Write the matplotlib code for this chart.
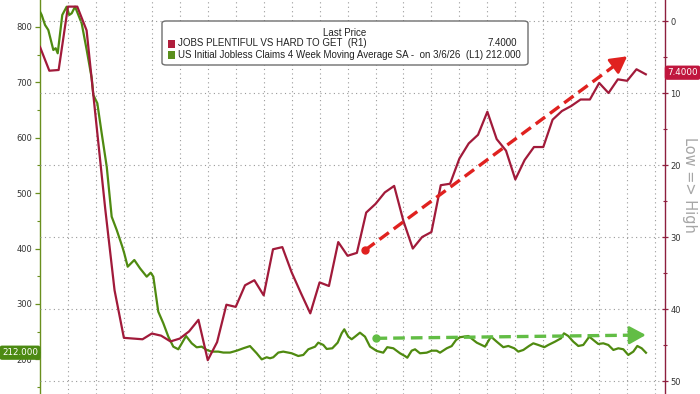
import numpy as np
import matplotlib
matplotlib.use("Agg")
import matplotlib.pyplot as plt
from matplotlib.patches import FancyBboxPatch, Rectangle, Polygon
from matplotlib.ticker import MultipleLocator, FixedLocator

# ---------------- data (x = months since end of Sep 2020) ----------------
jobs_diff = [3.6, 6.9, 6.8, -2.0, -2.0, 1.3, 13.7, 26.1, 37.4, 44.0,
             44.1, 44.2, 43.4, 43.7, 44.5, 44.1, 43.1, 41.5, 47.1, 44.6,
             39.4, 39.7, 36.7, 36.0, 38.1, 31.7, 31.4, 34.9, 37.8, 40.6,
             36.3, 36.8, 30.7, 32.6, 32.2, 26.6, 25.4, 23.8, 22.9, 27.8,
             31.6, 30.0, 29.3, 22.8, 22.6, 19.1, 17.0, 15.8, 12.6, 16.4,
             18.0, 22.0, 19.3, 17.5, 17.5, 13.7, 12.5, 11.8, 10.9, 10.9,
             8.6, 10.0, 8.1, 8.3, 6.7, 7.4]
jobs_months = list(range(len(jobs_diff)))

claims_months = [0.0, 0.18, 0.54, 0.89, 1.43, 1.68, 1.90, 2.39, 2.86, 3.14,
                 3.40, 3.76, 4.47, 5.01, 5.55, 5.72, 6.15, 6.62, 7.16, 7.69,
                 8.23, 8.83, 9.04, 9.41, 10.12, 10.73, 11.45, 11.88, 12.16, 12.69,
                 13.23, 13.77, 14.30, 14.84, 15.67, 16.28, 16.81, 17.35, 17.89, 18.42,
                 19.13, 19.67, 20.39, 21.11, 21.81, 22.53, 23.25, 23.79, 24.32, 24.68,
                 25.03, 25.57, 26.10, 27.01, 27.71, 28.25, 28.79, 29.51, 29.86, 30.40,
                 30.76, 31.36, 31.94, 32.37, 32.65, 33.08, 33.44, 33.80, 34.33, 34.87,
                 35.41, 36.13, 36.83, 37.26, 37.91, 38.63, 39.16, 39.41, 39.88, 40.24,
                 40.77, 41.49, 42.03, 42.56, 42.92, 43.64, 44.17, 44.64, 45.06, 45.96,
                 46.86, 47.75, 48.39, 49.00, 49.71, 50.25, 50.89, 51.32, 51.86, 52.47,
                 52.93, 53.47, 54.11, 54.54, 55.26, 55.90, 56.22, 56.68, 57.22, 57.76,
                 58.29, 58.94, 59.37, 59.90, 60.44, 60.98, 61.52, 62.05, 62.59, 63.12,
                 63.66, 64.09, 64.56, 65.02]
claims_k = [827.6, 821.7, 803.6, 794.6, 758.5, 761.6, 752.5, 821.7, 836.6, 821.7,
            824.7, 836.6, 806.7, 758.5, 707.4, 677.3, 662.3, 608.0, 547.8, 457.6,
            433.6, 403.5, 391.5, 367.3, 379.4, 364.4, 349.3, 356.5, 349.3, 286.2,
            265.2, 241.0, 223.0, 218.2, 242.2, 229.0, 221.8, 223.0, 217.0, 214.0,
            214.0, 212.3, 212.3, 215.7, 220.0, 224.0, 211.0, 200.0, 203.8, 202.0,
            203.8, 212.3, 214.0, 211.0, 206.1, 208.0, 218.2, 222.9, 230.2, 226.0,
            218.8, 220.0, 230.2, 247.1, 254.3, 241.0, 236.3, 241.0, 248.2, 241.0,
            223.0, 215.2, 212.1, 222.0, 220.0, 211.0, 206.0, 203.0, 215.7, 218.2,
            211.0, 212.1, 215.7, 215.7, 212.1, 220.0, 224.0, 235.0, 240.0, 242.2,
            230.2, 223.0, 241.0, 232.0, 222.0, 224.2, 220.0, 214.0, 217.0, 224.2,
            229.0, 226.0, 222.0, 226.0, 232.0, 238.0, 247.0, 242.2, 232.0, 224.2,
            226.0, 241.0, 235.0, 227.8, 229.0, 226.0, 217.0, 220.0, 218.2, 208.0,
            214.0, 224.2, 220.0, 212.0]

left_ticks = [200, 300, 400, 500, 600, 700, 800]
right_ticks = [0, 10, 20, 30, 40, 50]

# trend arrows (annotation): (month, value)
red_trend = [(34.9, 31.8), (63.0, 4.9)]
green_trend = [(36.0, 238.0), (65.0, 244.0)]

jobs_last = "7.4000"
claims_last = "212.000"

# ---------------- styling ----------------
RED = "#a11a3a"
GREEN = "#4f8a10"
RED_SPINE = "#8e1f3e"
GREEN_SPINE = "#6a8f1e"
W, H = 700, 394

def fx(px):
    return px / W

def fy(py):
    return 1 - py / H

fig = plt.figure(figsize=(7, 3.94), dpi=100)
fig.patch.set_facecolor("white")
ax = fig.add_axes([fx(40), 0, (665 - 40) / W, 1])
ax2 = ax.twinx()

ax.set_xlim(0, 67.06)
ax.set_ylim(137.5, 848.7)
ax2.set_ylim(51.8, -2.92)

for a in (ax, ax2):
    for s in ("top", "bottom"):
        a.spines[s].set_visible(False)
ax.spines["right"].set_visible(False)
ax2.spines["left"].set_visible(False)
ax.spines["left"].set_color(GREEN_SPINE)
ax.spines["left"].set_linewidth(1.0)
ax2.spines["right"].set_color(RED_SPINE)
ax2.spines["right"].set_linewidth(1.0)

# x gridlines (quarterly)
ax.xaxis.set_major_locator(FixedLocator(np.arange(3, 67, 3)))
ax.tick_params(axis="x", length=0, labelbottom=False)
grid_kw = dict(color="#9a9a9a", linestyle=(0, (1, 3)), linewidth=0.8)
ax.grid(axis="x", **grid_kw)
ax2.grid(axis="y", **grid_kw)
ax.set_axisbelow(True)
ax2.set_axisbelow(True)

ax.set_yticks(left_ticks)
ax.yaxis.set_minor_locator(MultipleLocator(50))
ax.tick_params(axis="y", which="major", color=GREEN_SPINE, labelcolor="#333333",
               labelsize=6, length=3.5, width=0.9, pad=2.2)
ax.tick_params(axis="y", which="minor", color=GREEN_SPINE, length=2.5, width=0.8)

ax2.set_yticks(right_ticks)
ax2.yaxis.set_minor_locator(MultipleLocator(5))
ax2.tick_params(axis="y", which="major", color=RED_SPINE, labelcolor="#333333",
                labelsize=6, length=4, width=0.9, direction="inout", pad=2.0)
ax2.tick_params(axis="y", which="minor", color=RED_SPINE, length=2.5, width=0.8,
                direction="inout")

# series
ax.plot(claims_months, claims_k, color=GREEN, lw=1.6, zorder=3,
        solid_joinstyle="round")
ax2.plot(jobs_months, jobs_diff, color=RED, lw=1.6, zorder=3,
         solid_joinstyle="round")

# trend arrows
def trend(axis, pts, color):
    (x0, y0), (x1, y1) = pts
    t = 0.95
    xm, ym = x0 + (x1 - x0) * t, y0 + (y1 - y0) * t
    axis.plot([x0, xm], [y0, ym], color=color, lw=2.4, dashes=(3.5, 1.8),
              zorder=4)
    axis.plot([x0], [y0], "o", color=color, ms=5, zorder=4)
    axis.annotate("", xy=(x1, y1), xytext=(xm, ym),
                  arrowprops=dict(arrowstyle="-|>,head_length=1.0,head_width=0.55",
                                  color=color, lw=2.0, shrinkA=0, shrinkB=0),
                  zorder=4)

trend(ax2, red_trend, "#e0211f")
trend(ax, green_trend, "#62bd45")

# right axis label
fig.text(fx(690), fy(185), "Low => High", rotation=-90, ha="center",
         va="center", color="#a6a6a6", fontsize=10.5)

# value badges
fig.text(fx(698), fy(72.7), jobs_last, ha="right", va="center", color="white",
         fontsize=6.3,
         bbox=dict(boxstyle="round,pad=0.3,rounding_size=0.3", fc="#c0163e",
                   ec="none"), zorder=6)
fig.patches.append(Polygon([[fx(666), fy(72.7)], [fx(672), fy(67.5)],
                            [fx(672), fy(78)]], closed=True,
                           transform=fig.transFigure, fc="#c0163e", ec="none",
                           zorder=5))
fig.text(fx(2), fy(352.7), claims_last, ha="left", va="center", color="white",
         fontsize=6.3,
         bbox=dict(boxstyle="round,pad=0.3,rounding_size=0.3", fc="#4c8a12",
                   ec="none"), zorder=6)
fig.patches.append(Polygon([[fx(41), fy(352.7)], [fx(35), fy(347.5)],
                            [fx(35), fy(358)]], closed=True,
                           transform=fig.transFigure, fc="#4c8a12", ec="none",
                           zorder=5))

# legend box
leg = FancyBboxPatch((fx(162), fy(65)), fx(528) - fx(162), fy(21) - fy(65),
                     boxstyle="round,pad=0,rounding_size=0.006",
                     transform=fig.transFigure, fc="white", ec="#6e6e6e",
                     lw=1.0, zorder=5)
fig.patches.append(leg)
lfont = dict(fontsize=7.0, family=["Liberation Sans", "DejaVu Sans"],
             color="#222222", zorder=7)
fig.text(fx(345), fy(33), "Last Price", ha="center", va="center", **lfont)
fig.patches.append(Rectangle((fx(167.5), fy(47.5)), 7.5 / W, 7.5 / H,
                             transform=fig.transFigure, fc="#b01e3c",
                             ec="none", zorder=6))
fig.patches.append(Rectangle((fx(167.5), fy(59)), 7.5 / W, 7.5 / H,
                             transform=fig.transFigure, fc="#5a8f1c",
                             ec="none", zorder=6))
fig.text(fx(178), fy(43.5), "JOBS PLENTIFUL VS HARD TO GET  (R1)", ha="left",
         va="center", **lfont)
fig.text(fx(517), fy(43.5), jobs_last, ha="right", va="center", **lfont)
fig.text(fx(178), fy(55),
         "US Initial Jobless Claims 4 Week Moving Average SA -  on 3/6/26  (L1) " + claims_last,
         ha="left", va="center", **lfont)

fig.savefig("out.png", dpi=100, facecolor="white")
